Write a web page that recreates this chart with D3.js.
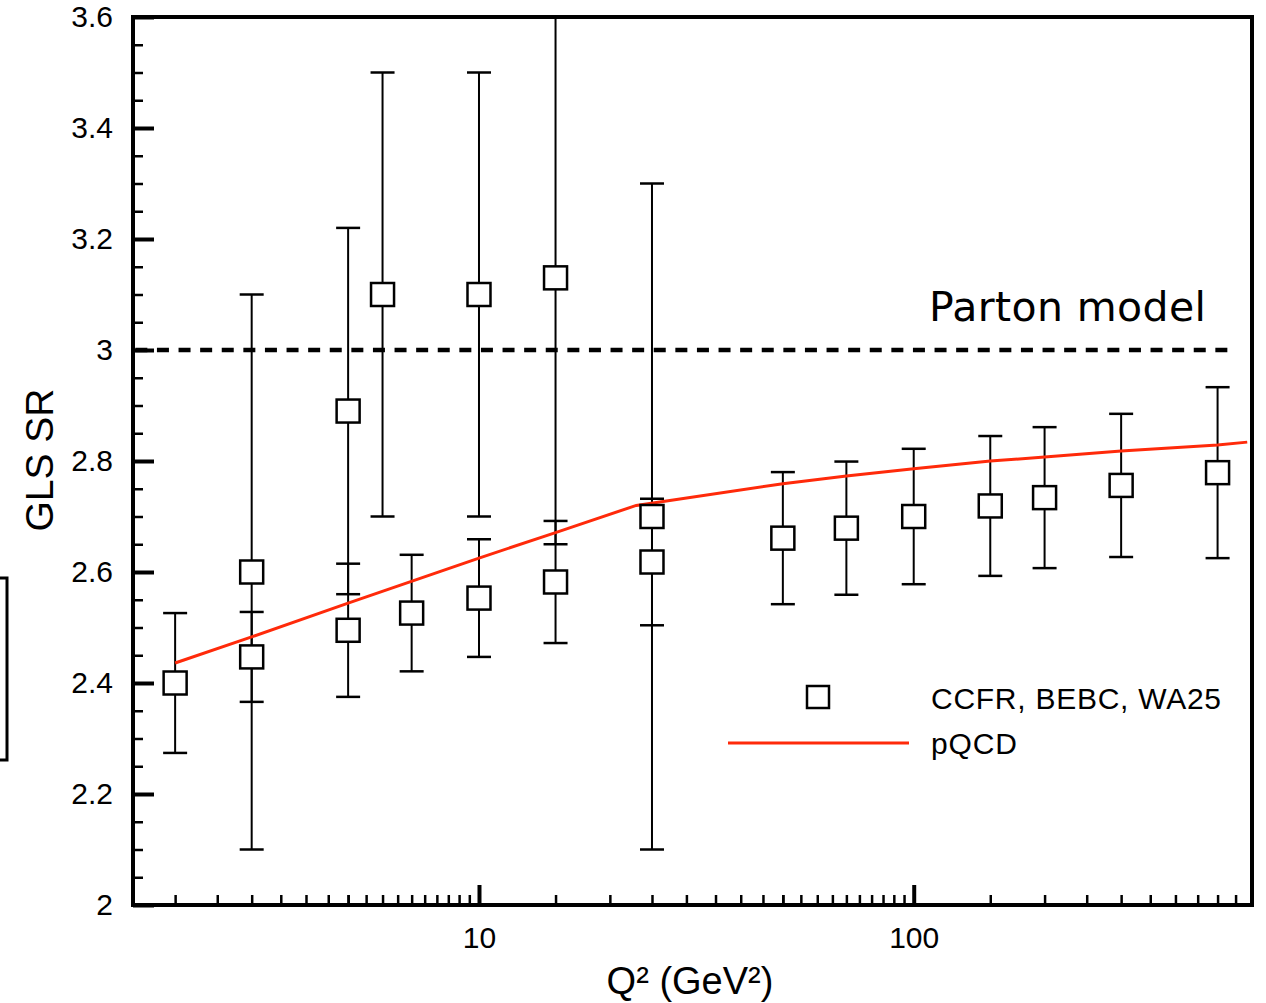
<!DOCTYPE html>
<html lang="en">
  <head>
    <meta charset="utf-8" />
    <title>GLS sum rule</title>
    <script src="https://cdnjs.cloudflare.com/ajax/libs/d3/7.8.5/d3.min.js"></script>
    <style type="text/css">
      body { margin: 0; background: #fff; }
      svg { display: block; }
      .tick text { font-family: "Liberation Sans", Arial, Helvetica, sans-serif; font-size: 30px; fill: #000; }
      .label { font-family: "Liberation Sans", Arial, Helvetica, sans-serif; fill: #000; }
    </style>
  </head>
  <body>
    <script>
      // data
      const q2 = [2, 3, 3, 5, 5, 6, 7, 10, 10, 15, 15, 25, 25, 50, 70, 100, 150, 200, 300, 500];
      const gls = [2.40, 2.60, 2.447, 2.89, 2.495, 3.10, 2.526, 3.10, 2.553, 3.13, 2.582, 2.70, 2.618,
        2.661, 2.679, 2.70, 2.719, 2.734, 2.756, 2.779];
      const glsErr = [0.126, 0.50, 0.081, 0.33, 0.12, 0.40, 0.105, 0.40, 0.106, 0.48, 0.11, 0.60, 0.114,
        0.119, 0.12, 0.122, 0.126, 0.127, 0.129, 0.154];

      const pqcdQ2 = [2, 3, 5, 10, 15, 23, 50, 70, 100, 150, 200, 300, 500, 585];
      const pqcdVal = [2.436, 2.483, 2.544, 2.625, 2.671, 2.72, 2.759, 2.773, 2.786, 2.80, 2.807, 2.818, 2.829, 2.834];

      const partonQ2 = [1.62, 535];
      const partonVal = [3, 3];

      const xTickValues = [10, 100];
      const yTickValues = [2, 2.2, 2.4, 2.6, 2.8, 3, 3.2, 3.4, 3.6];
      const yTickLabels = ['2', '2.2', '2.4', '2.6', '2.8', '3', '3.2', '3.4', '3.6'];

      const width = 1266;
      const height = 1003;
      const marginTop = 17;
      const marginRight = 14;
      const marginBottom = 98;
      const marginLeft = 133;

      const x = d3.scaleLog([1.6, 600], [marginLeft, width - marginRight]);
      const y = d3.scaleLinear([2, 3.6], [height - marginBottom, marginTop]);

      // minor ticks: every 0.5 * decade
      const xMinor = [];
      [1, 10, 100].forEach(dec => {
        for (let k = 1; k <= 20; k++) {
          const v = k * 0.5 * dec;
          if (v >= 1.6 && v <= 600 && xTickValues.indexOf(v) < 0) xMinor.push(v);
        }
      });
      const yMinor = d3.range(2, 3.6001, 0.05).filter(v => Math.abs(v * 5 - Math.round(v * 5)) > 1e-6);

      const svg = d3.select('body').append('svg')
        .attr('width', width)
        .attr('height', height)
        .attr('viewBox', [0, 0, width, height]);

      svg.append('rect').attr('width', width).attr('height', height).attr('fill', '#fff');

      svg.append('defs').append('clipPath').attr('id', 'plot')
        .append('rect')
        .attr('x', marginLeft).attr('y', marginTop)
        .attr('width', width - marginLeft - marginRight)
        .attr('height', height - marginTop - marginBottom);

      // piece of a neighbouring frame at the left edge
      svg.append('rect')
        .attr('x', -60).attr('y', 578).attr('width', 67).attr('height', 182)
        .attr('fill', 'none').attr('stroke', '#000').attr('stroke-width', 3);

      // minor ticks
      svg.append('g')
        .attr('transform', `translate(0, ${height - marginBottom})`)
        .call(d3.axisBottom(x).tickValues(xMinor).tickSize(-10).tickFormat(''))
        .call(g => g.select('.domain').remove())
        .call(g => g.selectAll('.tick line').attr('stroke-width', 2.5));

      svg.append('g')
        .attr('transform', `translate(${marginLeft}, 0)`)
        .call(d3.axisLeft(y).tickValues(yMinor).tickSize(-10).tickFormat(''))
        .call(g => g.select('.domain').remove())
        .call(g => g.selectAll('.tick line').attr('stroke-width', 2.5));

      // major ticks with labels
      svg.append('g')
        .attr('transform', `translate(0, ${height - marginBottom})`)
        .call(d3.axisBottom(x).tickValues(xTickValues).tickSize(-20).tickPadding(22).tickFormat(d3.format('d')))
        .call(g => g.select('.domain').remove())
        .call(g => g.selectAll('.tick line').attr('stroke-width', 4));

      svg.append('g')
        .attr('transform', `translate(${marginLeft}, 0)`)
        .call(d3.axisLeft(y).tickValues(yTickValues).tickSize(-21).tickPadding(20)
          .tickFormat((d, i) => yTickLabels[i]))
        .call(g => g.select('.domain').remove())
        .call(g => g.selectAll('.tick line').attr('stroke-width', 4));

      // parton model line
      svg.append('path')
        .attr('fill', 'none')
        .attr('stroke', '#000')
        .attr('stroke-width', 4.5)
        .attr('stroke-dasharray', '12,9.6')
        .attr('d', d3.line().x(d => x(d[0])).y(d => y(d[1]))(d3.zip(partonQ2, partonVal)));

      svg.append('text')
        .attr('x', 929).attr('y', 321)
        .attr('font-family', '"Comic Sans MS", "DejaVu Sans", sans-serif')
        .attr('font-size', 41)
        .attr('textLength', 277)
        .attr('fill', '#000')
        .text('Parton model');

      const data = q2.map((q, i) => ({ q, v: gls[i], e: glsErr[i] }));
      const bars = svg.append('g').attr('clip-path', 'url(#plot)')
        .attr('stroke', '#000');

      bars.selectAll('line.bar').data(data).join('line')
        .attr('class', 'bar')
        .attr('x1', d => x(d.q)).attr('x2', d => x(d.q))
        .attr('y1', d => y(d.v + d.e)).attr('y2', d => y(d.v - d.e))
        .attr('stroke-width', 2);

      ['top', 'bottom'].forEach(side => {
        bars.selectAll('line.' + side).data(data).join('line')
          .attr('class', side)
          .attr('x1', d => x(d.q) - 12).attr('x2', d => x(d.q) + 12)
          .attr('y1', d => y(side === 'top' ? d.v + d.e : d.v - d.e))
          .attr('y2', d => y(side === 'top' ? d.v + d.e : d.v - d.e))
          .attr('stroke-width', 2.5);
      });

      // pQCD curve
      svg.append('path')
        .attr('fill', 'none')
        .attr('stroke', '#ff2a0a')
        .attr('stroke-width', 3)
        .attr('d', d3.line().x(d => x(d[0])).y(d => y(d[1]))(d3.zip(pqcdQ2, pqcdVal)));

      // markers
      svg.append('g').selectAll('rect').data(data).join('rect')
        .attr('x', d => x(d.q) - 11.5).attr('y', d => y(d.v) - 11.5)
        .attr('width', 23).attr('height', 23)
        .attr('fill', '#fff').attr('stroke', '#000').attr('stroke-width', 2.5);

      // frame
      svg.append('rect')
        .attr('x', marginLeft).attr('y', marginTop)
        .attr('width', width - marginLeft - marginRight)
        .attr('height', height - marginTop - marginBottom)
        .attr('fill', 'none').attr('stroke', '#000').attr('stroke-width', 4);

      // legend
      const legend = svg.append('g');
      legend.append('rect')
        .attr('x', 807).attr('y', 686).attr('width', 22).attr('height', 22)
        .attr('fill', '#fff').attr('stroke', '#000').attr('stroke-width', 2.5);
      legend.append('text').attr('class', 'label')
        .attr('x', 931).attr('y', 709).attr('font-size', 30)
        .attr('textLength', 290)
        .text('CCFR, BEBC, WA25');
      legend.append('line')
        .attr('x1', 728).attr('x2', 909).attr('y1', 743).attr('y2', 743)
        .attr('stroke', '#ff2a0a').attr('stroke-width', 3);
      legend.append('text').attr('class', 'label')
        .attr('x', 931).attr('y', 754).attr('font-size', 30)
        .attr('textLength', 86)
        .text('pQCD');

      // axis titles
      svg.append('text').attr('class', 'label')
        .attr('x', 690).attr('y', 994)
        .attr('text-anchor', 'middle')
        .attr('font-size', 38)
        .text('Q² (GeV²)');

      svg.append('text').attr('class', 'label')
        .attr('transform', 'translate(53, 460) rotate(-90)')
        .attr('text-anchor', 'middle')
        .attr('font-size', 39)
        .text('GLS SR');
    </script>
  </body>
</html>
